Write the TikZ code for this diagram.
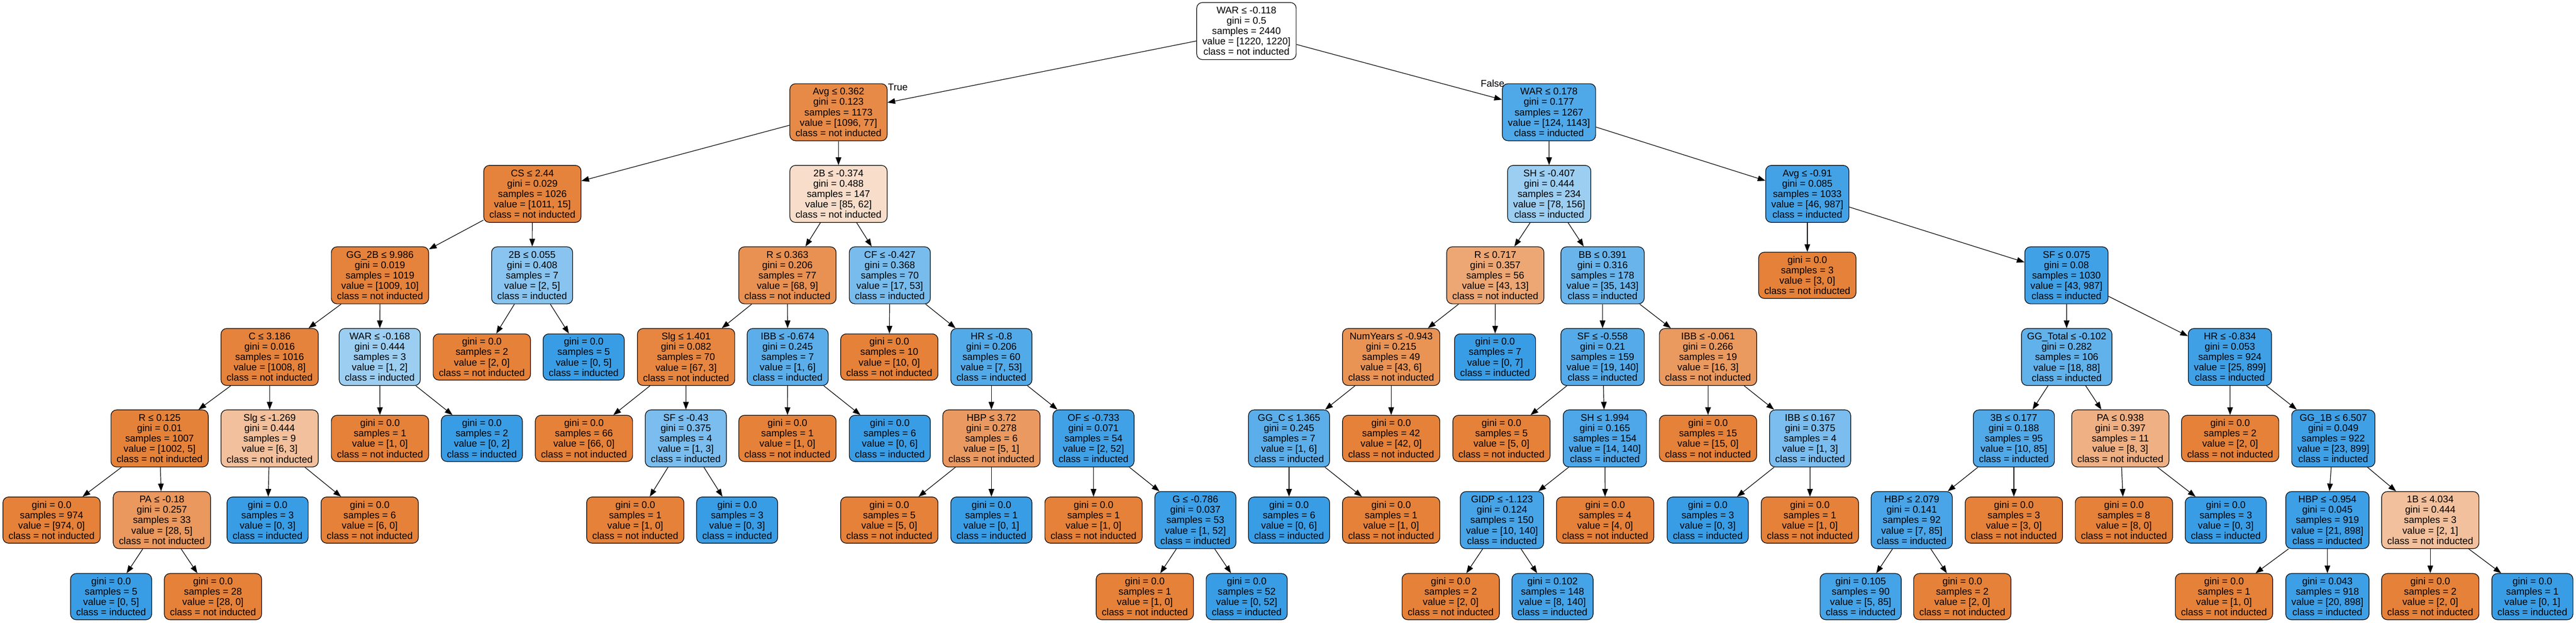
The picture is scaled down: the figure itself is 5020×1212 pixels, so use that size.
\documentclass[tikz,border=0pt]{standalone}
\usepackage{fontspec}
\setmainfont{Liberation Sans}
\usepackage{tikz}
\usetikzlibrary{arrows.meta}
\definecolor{notind}{RGB}{229,129,57}
\definecolor{ind}{RGB}{57,157,229}

\begin{document}
\begin{tikzpicture}[x=1pt, y=-1pt,
    font=\fontsize{18.9}{20.2}\selectfont,
    split/.style={draw, rounded corners=11pt, line width=1.2pt, align=center, minimum height=111pt, inner xsep=11pt},
    leaf/.style={split, minimum height=90pt},
    arrow/.style={-{Triangle[length=15pt,width=11pt]}, line width=1.2pt}]

\useasboundingbox (0,0) rectangle (5020,1212);

% depth 0 and 1
\node [split, fill=white] (root) at (2429,60.5) {WAR ≤ -0.118\\gini = 0.5\\samples = 2440\\value = [1220, 1220]\\class = not inducted};
\node [split, fill=notind!93] (avg1) at (1634,218.5) {Avg ≤ 0.362\\gini = 0.123\\samples = 1173\\value = [1096, 77]\\class = not inducted};
\node [split, fill=ind!89] (war2) at (3018.5,218.5) {WAR ≤ 0.178\\gini = 0.177\\samples = 1267\\value = [124, 1143]\\class = inducted};

% depth 2
\node [split, fill=notind!98.5] (cs) at (1037.5,377.5) {CS ≤ 2.44\\gini = 0.029\\samples = 1026\\value = [1011, 15]\\class = not inducted};
\node [split, fill=notind!27] (dbl1) at (1634,377.5) {2B ≤ -0.374\\gini = 0.488\\samples = 147\\value = [85, 62]\\class = not inducted};
\node [split, fill=ind!50] (sh1) at (3019,377.5) {SH ≤ -0.407\\gini = 0.444\\samples = 234\\value = [78, 156]\\class = inducted};
\node [split, fill=ind!95] (avg2) at (3522,377.5) {Avg ≤ -0.91\\gini = 0.085\\samples = 1033\\value = [46, 987]\\class = inducted};

% depth 3
\node [split, fill=notind!99] (gg2b) at (740.5,536) {GG\_2B ≤ 9.986\\gini = 0.019\\samples = 1019\\value = [1009, 10]\\class = not inducted};
\node [split, fill=ind!60] (dbl2) at (1037,536) {2B ≤ 0.055\\gini = 0.408\\samples = 7\\value = [2, 5]\\class = inducted};
\node [split, fill=notind!87] (run1) at (1534.5,536) {R ≤ 0.363\\gini = 0.206\\samples = 77\\value = [68, 9]\\class = not inducted};
\node [split, fill=ind!68] (cf) at (1734,536) {CF ≤ -0.427\\gini = 0.368\\samples = 70\\value = [17, 53]\\class = inducted};
\node [split, fill=notind!70] (run2) at (2914,536) {R ≤ 0.717\\gini = 0.357\\samples = 56\\value = [43, 13]\\class = not inducted};
\node [split, fill=ind!76] (bb) at (3123,536) {BB ≤ 0.391\\gini = 0.316\\samples = 178\\value = [35, 143]\\class = inducted};
\node [leaf, fill=notind] (lf1) at (3522,536) {gini = 0.0\\samples = 3\\value = [3, 0]\\class = not inducted};
\node [split, fill=ind!96] (sf1) at (4027,536) {SF ≤ 0.075\\gini = 0.08\\samples = 1030\\value = [43, 987]\\class = inducted};

% depth 4
\node [split, fill=notind!99] (c1) at (525.5,695) {C ≤ 3.186\\gini = 0.016\\samples = 1016\\value = [1008, 8]\\class = not inducted};
\node [split, fill=ind!50] (war3) at (740,695) {WAR ≤ -0.168\\gini = 0.444\\samples = 3\\value = [1, 2]\\class = inducted};
\node [leaf, fill=notind] (lf2) at (939,695) {gini = 0.0\\samples = 2\\value = [2, 0]\\class = not inducted};
\node [leaf, fill=ind] (lf3) at (1137.5,695) {gini = 0.0\\samples = 5\\value = [0, 5]\\class = inducted};
\node [split, fill=notind!96] (slg1) at (1337,695) {Slg ≤ 1.401\\gini = 0.082\\samples = 70\\value = [67, 3]\\class = not inducted};
\node [split, fill=ind!83] (ibb1) at (1535,695) {IBB ≤ -0.674\\gini = 0.245\\samples = 7\\value = [1, 6]\\class = inducted};
\node [leaf, fill=notind] (lf4) at (1733,695) {gini = 0.0\\samples = 10\\value = [10, 0]\\class = not inducted};
\node [split, fill=ind!87] (hr1) at (1932,695) {HR ≤ -0.8\\gini = 0.206\\samples = 60\\value = [7, 53]\\class = inducted};
\node [split, fill=notind!86] (years) at (2711,695) {NumYears ≤ -0.943\\gini = 0.215\\samples = 49\\value = [43, 6]\\class = not inducted};
\node [leaf, fill=ind] (lf5) at (2913.5,695) {gini = 0.0\\samples = 7\\value = [0, 7]\\class = inducted};
\node [split, fill=ind!86] (sf2) at (3123,695) {SF ≤ -0.558\\gini = 0.21\\samples = 159\\value = [19, 140]\\class = inducted};
\node [split, fill=notind!81] (ibb2) at (3328.5,695) {IBB ≤ -0.061\\gini = 0.266\\samples = 19\\value = [16, 3]\\class = not inducted};
\node [split, fill=ind!80] (ggtot) at (4027.5,695) {GG\_Total ≤ -0.102\\gini = 0.282\\samples = 106\\value = [18, 88]\\class = inducted};
\node [split, fill=ind!97] (hr2) at (4345.5,695) {HR ≤ -0.834\\gini = 0.053\\samples = 924\\value = [25, 899]\\class = inducted};

% depth 5
\node [split, fill=notind!99.5] (run3) at (311,853.5) {R ≤ 0.125\\gini = 0.01\\samples = 1007\\value = [1002, 5]\\class = not inducted};
\node [split, fill=notind!50] (slg2) at (525.5,853.5) {Slg ≤ -1.269\\gini = 0.444\\samples = 9\\value = [6, 3]\\class = not inducted};
\node [leaf, fill=notind] (lf6) at (740.5,853.5) {gini = 0.0\\samples = 1\\value = [1, 0]\\class = not inducted};
\node [leaf, fill=ind] (lf7) at (939,853.5) {gini = 0.0\\samples = 2\\value = [0, 2]\\class = inducted};
\node [leaf, fill=notind] (lf8) at (1138,853.5) {gini = 0.0\\samples = 66\\value = [66, 0]\\class = not inducted};
\node [split, fill=ind!67] (sf3) at (1336.5,853.5) {SF ≤ -0.43\\gini = 0.375\\samples = 4\\value = [1, 3]\\class = inducted};
\node [leaf, fill=notind] (lf9) at (1534.5,853.5) {gini = 0.0\\samples = 1\\value = [1, 0]\\class = not inducted};
\node [leaf, fill=ind] (lf10) at (1734,853.5) {gini = 0.0\\samples = 6\\value = [0, 6]\\class = inducted};
\node [split, fill=notind!80] (hbp1) at (1932,853.5) {HBP ≤ 3.72\\gini = 0.278\\samples = 6\\value = [5, 1]\\class = not inducted};
\node [split, fill=ind!96] (of) at (2131,853.5) {OF ≤ -0.733\\gini = 0.071\\samples = 54\\value = [2, 52]\\class = inducted};
\node [split, fill=ind!83] (ggc) at (2512,853.5) {GG\_C ≤ 1.365\\gini = 0.245\\samples = 7\\value = [1, 6]\\class = inducted};
\node [leaf, fill=notind] (lf11) at (2711,853.5) {gini = 0.0\\samples = 42\\value = [42, 0]\\class = not inducted};
\node [leaf, fill=notind] (lf12) at (2926,853.5) {gini = 0.0\\samples = 5\\value = [5, 0]\\class = not inducted};
\node [split, fill=ind!90] (sh2) at (3127.5,853.5) {SH ≤ 1.994\\gini = 0.165\\samples = 154\\value = [14, 140]\\class = inducted};
\node [leaf, fill=notind] (lf13) at (3328.5,853.5) {gini = 0.0\\samples = 15\\value = [15, 0]\\class = not inducted};
\node [split, fill=ind!67] (ibb3) at (3527.5,853.5) {IBB ≤ 0.167\\gini = 0.375\\samples = 4\\value = [1, 3]\\class = inducted};
\node [split, fill=ind!88] (trip) at (3924.5,853.5) {3B ≤ 0.177\\gini = 0.188\\samples = 95\\value = [10, 85]\\class = inducted};
\node [split, fill=notind!62.5] (pa2) at (4132,853.5) {PA ≤ 0.938\\gini = 0.397\\samples = 11\\value = [8, 3]\\class = not inducted};
\node [leaf, fill=notind] (lf14) at (4346,853.5) {gini = 0.0\\samples = 2\\value = [2, 0]\\class = not inducted};
\node [split, fill=ind!97] (gg1b) at (4547,853.5) {GG\_1B ≤ 6.507\\gini = 0.049\\samples = 922\\value = [23, 899]\\class = inducted};

% depth 6
\node [leaf, fill=notind] (lf15) at (100.5,1012.5) {gini = 0.0\\samples = 974\\value = [974, 0]\\class = not inducted};
\node [split, fill=notind!82] (pa1) at (315.5,1012.5) {PA ≤ -0.18\\gini = 0.257\\samples = 33\\value = [28, 5]\\class = not inducted};
\node [leaf, fill=ind] (lf16) at (521.5,1012.5) {gini = 0.0\\samples = 3\\value = [0, 3]\\class = inducted};
\node [leaf, fill=notind] (lf17) at (720.5,1012.5) {gini = 0.0\\samples = 6\\value = [6, 0]\\class = not inducted};
\node [leaf, fill=notind] (lf18) at (1238,1012.5) {gini = 0.0\\samples = 1\\value = [1, 0]\\class = not inducted};
\node [leaf, fill=ind] (lf19) at (1436.5,1012.5) {gini = 0.0\\samples = 3\\value = [0, 3]\\class = inducted};
\node [leaf, fill=notind] (lf20) at (1733,1012.5) {gini = 0.0\\samples = 5\\value = [5, 0]\\class = not inducted};
\node [leaf, fill=ind] (lf21) at (1932,1012.5) {gini = 0.0\\samples = 1\\value = [0, 1]\\class = inducted};
\node [leaf, fill=notind] (lf22) at (2131,1012.5) {gini = 0.0\\samples = 1\\value = [1, 0]\\class = not inducted};
\node [split, fill=ind!98] (games) at (2329.5,1012.5) {G ≤ -0.786\\gini = 0.037\\samples = 53\\value = [1, 52]\\class = inducted};
\node [leaf, fill=ind] (lf23) at (2512,1012.5) {gini = 0.0\\samples = 6\\value = [0, 6]\\class = inducted};
\node [leaf, fill=notind] (lf24) at (2711,1012.5) {gini = 0.0\\samples = 1\\value = [1, 0]\\class = not inducted};
\node [split, fill=ind!93] (gidp) at (2927,1012.5) {GIDP ≤ -1.123\\gini = 0.124\\samples = 150\\value = [10, 140]\\class = inducted};
\node [leaf, fill=notind] (lf25) at (3128,1012.5) {gini = 0.0\\samples = 4\\value = [4, 0]\\class = not inducted};
\node [leaf, fill=ind] (lf26) at (3328,1012.5) {gini = 0.0\\samples = 3\\value = [0, 3]\\class = inducted};
\node [leaf, fill=notind] (lf27) at (3527,1012.5) {gini = 0.0\\samples = 1\\value = [1, 0]\\class = not inducted};
\node [split, fill=ind!92] (hbp2) at (3725.5,1012.5) {HBP ≤ 2.079\\gini = 0.141\\samples = 92\\value = [7, 85]\\class = inducted};
\node [leaf, fill=notind] (lf28) at (3924.5,1012.5) {gini = 0.0\\samples = 3\\value = [3, 0]\\class = not inducted};
\node [leaf, fill=notind] (lf29) at (4139,1012.5) {gini = 0.0\\samples = 8\\value = [8, 0]\\class = not inducted};
\node [leaf, fill=ind] (lf30) at (4337.5,1012.5) {gini = 0.0\\samples = 3\\value = [0, 3]\\class = inducted};
\node [split, fill=ind!98] (hbp3) at (4535.5,1012.5) {HBP ≤ -0.954\\gini = 0.045\\samples = 919\\value = [21, 898]\\class = inducted};
\node [split, fill=notind!50] (sgl) at (4736,1012.5) {1B ≤ 4.034\\gini = 0.444\\samples = 3\\value = [2, 1]\\class = not inducted};

% depth 7
\node [leaf, fill=ind] (lf31) at (216.5,1161.5) {gini = 0.0\\samples = 5\\value = [0, 5]\\class = inducted};
\node [leaf, fill=notind] (lf32) at (415,1161.5) {gini = 0.0\\samples = 28\\value = [28, 0]\\class = not inducted};
\node [leaf, fill=notind] (lf33) at (2231,1161.5) {gini = 0.0\\samples = 1\\value = [1, 0]\\class = not inducted};
\node [leaf, fill=ind] (lf34) at (2429.5,1161.5) {gini = 0.0\\samples = 52\\value = [0, 52]\\class = inducted};
\node [leaf, fill=notind] (lf35) at (2827,1161.5) {gini = 0.0\\samples = 2\\value = [2, 0]\\class = not inducted};
\node [leaf, fill=ind!94] (lf36) at (3025.5,1161.5) {gini = 0.102\\samples = 148\\value = [8, 140]\\class = inducted};
\node [leaf, fill=ind!94] (lf37) at (3626,1161.5) {gini = 0.105\\samples = 90\\value = [5, 85]\\class = inducted};
\node [leaf, fill=notind] (lf38) at (3824,1161.5) {gini = 0.0\\samples = 2\\value = [2, 0]\\class = not inducted};
\node [leaf, fill=notind] (lf39) at (4334,1161.5) {gini = 0.0\\samples = 1\\value = [1, 0]\\class = not inducted};
\node [leaf, fill=ind!98] (lf40) at (4535.5,1161.5) {gini = 0.043\\samples = 918\\value = [20, 898]\\class = inducted};
\node [leaf, fill=notind] (lf41) at (4736,1161.5) {gini = 0.0\\samples = 2\\value = [2, 0]\\class = not inducted};
\node [leaf, fill=ind] (lf42) at (4935,1161.5) {gini = 0.0\\samples = 1\\value = [0, 1]\\class = inducted};

% branch labels
\node [anchor=base west, inner sep=0pt] (truelbl) at ([xshift=1pt,yshift=-14pt]avg1.north east) {True};
\node [anchor=base east, inner sep=0pt] (falselbl) at ([xshift=5pt,yshift=-7pt]war2.north west) {False};

% edges
\draw [arrow] (root) -- (avg1);
\draw [arrow] (root) -- (war2);
\draw [arrow] (avg1) -- (cs);
\draw [arrow] (avg1) -- (dbl1);
\draw [arrow] (war2) -- (sh1);
\draw [arrow] (war2) -- (avg2);
\draw [arrow] (cs) -- (gg2b);
\draw [arrow] (cs) -- (dbl2);
\draw [arrow] (dbl1) -- (run1);
\draw [arrow] (dbl1) -- (cf);
\draw [arrow] (sh1) -- (run2);
\draw [arrow] (sh1) -- (bb);
\draw [arrow] (avg2) -- (lf1);
\draw [arrow] (avg2) -- (sf1);
\draw [arrow] (gg2b) -- (c1);
\draw [arrow] (gg2b) -- (war3);
\draw [arrow] (dbl2) -- (lf2);
\draw [arrow] (dbl2) -- (lf3);
\draw [arrow] (run1) -- (slg1);
\draw [arrow] (run1) -- (ibb1);
\draw [arrow] (cf) -- (lf4);
\draw [arrow] (cf) -- (hr1);
\draw [arrow] (run2) -- (years);
\draw [arrow] (run2) -- (lf5);
\draw [arrow] (bb) -- (sf2);
\draw [arrow] (bb) -- (ibb2);
\draw [arrow] (sf1) -- (ggtot);
\draw [arrow] (sf1) -- (hr2);
\draw [arrow] (c1) -- (run3);
\draw [arrow] (c1) -- (slg2);
\draw [arrow] (war3) -- (lf6);
\draw [arrow] (war3) -- (lf7);
\draw [arrow] (slg1) -- (lf8);
\draw [arrow] (slg1) -- (sf3);
\draw [arrow] (ibb1) -- (lf9);
\draw [arrow] (ibb1) -- (lf10);
\draw [arrow] (hr1) -- (hbp1);
\draw [arrow] (hr1) -- (of);
\draw [arrow] (years) -- (ggc);
\draw [arrow] (years) -- (lf11);
\draw [arrow] (sf2) -- (lf12);
\draw [arrow] (sf2) -- (sh2);
\draw [arrow] (ibb2) -- (lf13);
\draw [arrow] (ibb2) -- (ibb3);
\draw [arrow] (ggtot) -- (trip);
\draw [arrow] (ggtot) -- (pa2);
\draw [arrow] (hr2) -- (lf14);
\draw [arrow] (hr2) -- (gg1b);
\draw [arrow] (run3) -- (lf15);
\draw [arrow] (run3) -- (pa1);
\draw [arrow] (slg2) -- (lf16);
\draw [arrow] (slg2) -- (lf17);
\draw [arrow] (sf3) -- (lf18);
\draw [arrow] (sf3) -- (lf19);
\draw [arrow] (hbp1) -- (lf20);
\draw [arrow] (hbp1) -- (lf21);
\draw [arrow] (of) -- (lf22);
\draw [arrow] (of) -- (games);
\draw [arrow] (ggc) -- (lf23);
\draw [arrow] (ggc) -- (lf24);
\draw [arrow] (sh2) -- (gidp);
\draw [arrow] (sh2) -- (lf25);
\draw [arrow] (ibb3) -- (lf26);
\draw [arrow] (ibb3) -- (lf27);
\draw [arrow] (trip) -- (hbp2);
\draw [arrow] (trip) -- (lf28);
\draw [arrow] (pa2) -- (lf29);
\draw [arrow] (pa2) -- (lf30);
\draw [arrow] (gg1b) -- (hbp3);
\draw [arrow] (gg1b) -- (sgl);
\draw [arrow] (pa1) -- (lf31);
\draw [arrow] (pa1) -- (lf32);
\draw [arrow] (games) -- (lf33);
\draw [arrow] (games) -- (lf34);
\draw [arrow] (gidp) -- (lf35);
\draw [arrow] (gidp) -- (lf36);
\draw [arrow] (hbp2) -- (lf37);
\draw [arrow] (hbp2) -- (lf38);
\draw [arrow] (hbp3) -- (lf39);
\draw [arrow] (hbp3) -- (lf40);
\draw [arrow] (sgl) -- (lf41);
\draw [arrow] (sgl) -- (lf42);

\end{tikzpicture}
\end{document}
